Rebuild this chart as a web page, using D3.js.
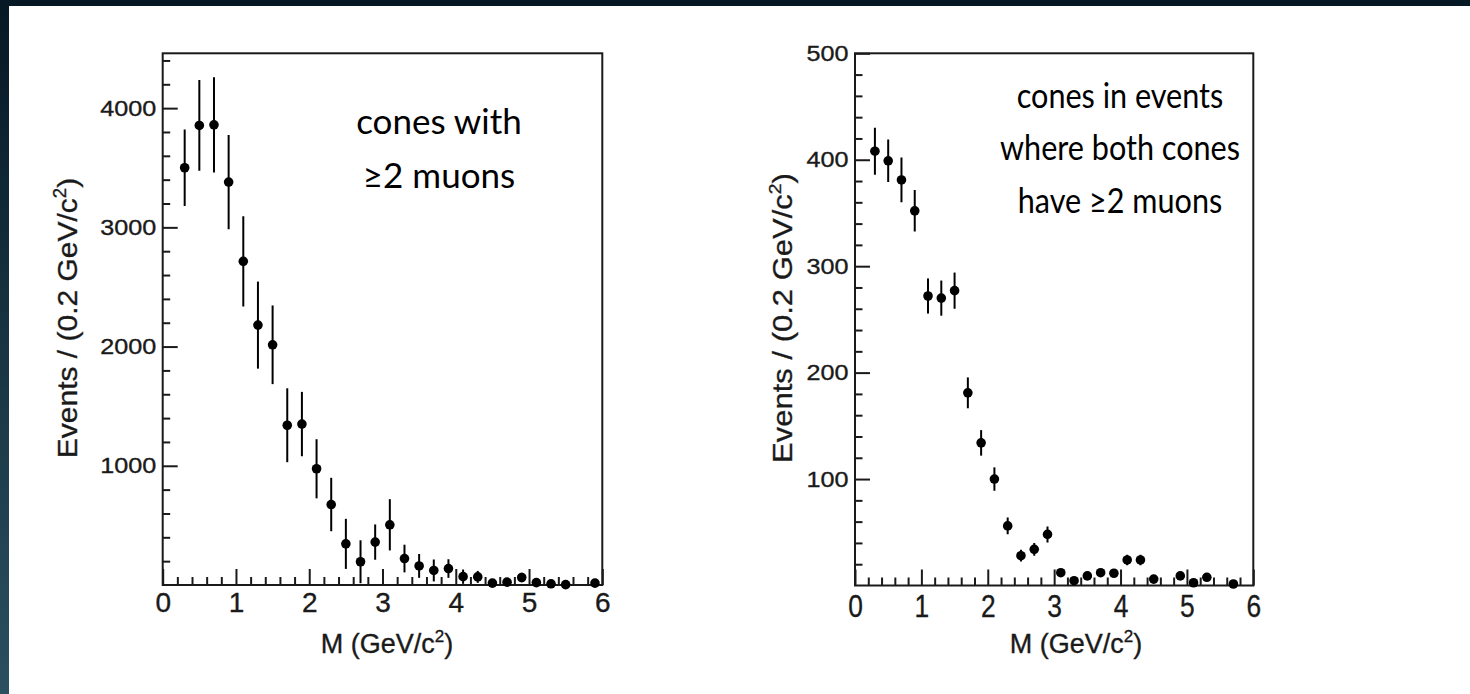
<!DOCTYPE html>
<html>
<head>
<meta charset="utf-8">
<script src="https://cdn.jsdelivr.net/npm/d3@7"></script>
<style>
  html, body { margin: 0; padding: 0; overflow: hidden; background: #fff; }
  svg { display: block; }
</style>
</head>
<body>
<svg id="chart" width="1470" height="694"></svg>
<script>
// Invariant mass spectra of muon pairs inside cones, 0.2 GeV/c^2 bins.

// Panel A: cones with at least two muons
const coneMass   = [0.3, 0.5, 0.7, 0.9, 1.1, 1.3, 1.5, 1.7, 1.9, 2.1, 2.3, 2.5, 2.7, 2.9,
                    3.1, 3.3, 3.5, 3.7, 3.9, 4.1, 4.3, 4.5, 4.7, 4.9, 5.1, 5.3, 5.5, 5.9];
const coneEvents = [3500, 3855, 3860, 3380, 2715, 2180, 2015, 1340, 1350, 975, 675, 345, 195, 360,
                    505, 222, 160, 122, 138, 70, 68, 16, 24, 63, 20, 10, 3, 16];
const coneErrors = [320, 380, 400, 395, 378, 365, 330, 310, 270, 248, 224, 210, 180, 148,
                    215, 116, 100, 92, 78, 60, 50, 20, 25, 40, 20, 15, 10, 15];

// Panel B: cones in events where both cones have at least two muons
const bothMass   = [0.3, 0.5, 0.7, 0.9, 1.1, 1.3, 1.5, 1.7, 1.9, 2.1, 2.3, 2.5, 2.7, 2.9,
                    3.1, 3.3, 3.5, 3.7, 3.9, 4.1, 4.3, 4.5, 4.9, 5.1, 5.3, 5.7];
const bothEvents = [408, 399, 381, 352, 272, 270, 277, 181, 134, 100, 56, 28, 34, 48,
                    12, 4.5, 9, 12, 11.5, 24, 24, 6, 9, 2.6, 7.7, 1.4];
const bothErrors = [22, 20, 21, 19.5, 16.5, 16.5, 17, 14.5, 12, 11, 7.8, 5.5, 6, 7.5,
                    3.5, 2, 3, 3.5, 3.5, 5, 5, 2.5, 3, 1.6, 2.8, 1.2];

// Axis ticks and labels
const massTicks   = [0, 1, 2, 3, 4, 5, 6];
const coneYTicks  = [1000, 2000, 3000, 4000];
const bothYTicks  = [100, 200, 300, 400, 500];
const xTitle      = "M (GeV/c";
const yTitle      = "Events / (0.2 GeV/c";
const coneNote    = ["cones with", "\u22652 muons"];
const bothNote    = ["cones in events", "where both cones", "have \u22652 muons"];

const svg = d3.select("#chart");
const defs = svg.append("defs");

// Dark slide border behind the white page
const bg = defs.append("linearGradient").attr("id", "slideBg")
  .attr("x1", 0).attr("y1", 0).attr("x2", 0).attr("y2", 1);
bg.append("stop").attr("offset", "0%").attr("stop-color", "#061824");
bg.append("stop").attr("offset", "100%").attr("stop-color", "#2b5060");
svg.append("rect").attr("width", 1470).attr("height", 694).attr("fill", "url(#slideBg)");
svg.append("rect").attr("x", 9).attr("y", 6).attr("width", 1461).attr("height", 688).attr("fill", "#fff");

const ROOT_FONT = "'Liberation Sans', Arial, Helvetica, sans-serif";
const NOTE_FONT = "Lato, 'Open Sans', sans-serif";
const INK = "#1a1a1a";

function heavy(sel) {
  return sel.attr("stroke", INK).attr("stroke-width", 0.35).attr("fill", INK);
}

function drawPanel(p) {
  const x = d3.scaleLinear().domain([0, 6]).range([p.left, p.right]);
  const y = d3.scaleLinear().domain([0, p.yMax]).range([p.bottom, p.top]);
  const g = svg.append("g");

  // minor + major ticks, pointing into the frame
  const xMinor = d3.range(0, 6.0001, 0.2).filter(v => Math.abs(v - Math.round(v)) > 1e-6);
  const yMinor = d3.range(p.yMinorStep, p.yMax, p.yMinorStep)
    .filter(v => Math.abs(v / p.yMajorStep - Math.round(v / p.yMajorStep)) > 1e-6);

  const styleAxis = sel => {
    sel.select(".domain").remove();
    sel.selectAll(".tick line").attr("stroke", INK).attr("stroke-width", 2);
  };

  g.append("g").attr("transform", `translate(0,${p.bottom})`)
    .call(d3.axisBottom(x).tickValues(xMinor).tickSize(-8).tickFormat(""))
    .call(styleAxis);
  const xAx = g.append("g").attr("transform", `translate(0,${p.bottom})`)
    .call(d3.axisBottom(x).tickValues(massTicks).tickSize(-16).tickPadding(0).tickFormat(d3.format("d")))
    .call(styleAxis);
  xAx.selectAll(".tick text")
    .attr("font-family", ROOT_FONT).attr("font-size", p.xLabelSize)
    .attr("y", 0).attr("dy", 0)
    .attr("transform", `translate(0,${p.xLabelBase}) scale(${p.xLabelStretch},1)`)
    .call(heavy);

  g.append("g").attr("transform", `translate(${p.left},0)`)
    .call(d3.axisLeft(y).tickValues(yMinor).tickSize(-7.5).tickFormat(""))
    .call(styleAxis);
  const yAx = g.append("g").attr("transform", `translate(${p.left},0)`)
    .call(d3.axisLeft(y).tickValues(p.yTicks).tickSize(-15).tickPadding(7).tickFormat(d3.format("d")))
    .call(styleAxis);
  yAx.selectAll(".tick text").attr("font-family", ROOT_FONT).attr("font-size", 22.5)
    .attr("transform", "scale(1.12,1)").attr("x", -6.5 / 1.12)
    .call(heavy);

  // frame
  g.append("rect").attr("x", p.left).attr("y", p.top)
    .attr("width", p.right - p.left).attr("height", p.bottom - p.top)
    .attr("fill", "none").attr("stroke", INK).attr("stroke-width", 2);

  // data points with error bars
  const clipId = "clip-" + p.id;
  defs.append("clipPath").attr("id", clipId).append("rect")
    .attr("x", p.left).attr("y", p.top)
    .attr("width", p.right - p.left).attr("height", p.bottom - p.top);

  const pts = p.xs.map((m, i) => ({ m, v: p.ys[i], e: p.es[i] }));
  const dg = g.append("g").attr("clip-path", `url(#${clipId})`);
  dg.selectAll("line.err").data(pts).join("line").attr("class", "err")
    .attr("x1", d => x(d.m)).attr("x2", d => x(d.m))
    .attr("y1", d => y(d.v + d.e)).attr("y2", d => y(Math.max(0, d.v - d.e)))
    .attr("stroke", "#000").attr("stroke-width", 2);
  g.selectAll("circle.pt").data(pts).join("circle").attr("class", "pt")
    .attr("cx", d => x(d.m)).attr("cy", d => y(d.v)).attr("r", 4.8).attr("fill", "#000");

  // axis titles
  const xt = g.append("text")
    .attr("transform", `translate(${p.xTitleX},653)`)
    .attr("text-anchor", "middle").attr("font-family", ROOT_FONT)
    .attr("font-size", 27).call(heavy);
  xt.append("tspan").text(xTitle);
  xt.append("tspan").attr("font-size", 17).attr("dy", -11).text("2");
  xt.append("tspan").attr("dy", 11).text(")");

  const yt = g.append("text")
    .attr("transform", `translate(${p.yTitleX},${p.yTitleY}) rotate(-90) scale(1,${p.yTitleSquash})`)
    .attr("text-anchor", "middle").attr("font-family", ROOT_FONT)
    .attr("font-size", p.yTitleSize).call(heavy);
  yt.append("tspan").text(yTitle);
  yt.append("tspan").attr("font-size", p.yTitleSize * 0.62).attr("dy", -12).text("2");
  yt.append("tspan").attr("dy", 12).text(")");

  // annotation
  const nt = g.append("text").attr("text-anchor", "middle")
    .attr("transform", `translate(${p.noteX},0) scale(${p.noteStretch},1)`)
    .attr("font-family", NOTE_FONT).attr("font-size", p.noteSize).attr("fill", "#000");
  p.note.forEach((line, i) => {
    nt.append("tspan").attr("x", 0).attr("y", p.noteY + i * p.noteGap).text(line);
  });
}

drawPanel({
  id: "cone", left: 162.7, right: 602.3, top: 53.3, bottom: 585,
  yMax: 4460, yMajorStep: 1000, yMinorStep: 200, yTicks: coneYTicks,
  xs: coneMass, ys: coneEvents, es: coneErrors,
  xLabelSize: 28, xLabelStretch: 1, xLabelBase: 27,
  xTitleX: 387, yTitleX: 77, yTitleY: 318, yTitleSize: 30, yTitleSquash: 0.95,
  note: coneNote, noteX: 439, noteY: 134, noteGap: 54, noteSize: 35, noteStretch: 1
});

drawPanel({
  id: "both", left: 855, right: 1253.3, top: 53.3, bottom: 585.5,
  yMax: 500, yMajorStep: 100, yMinorStep: 20, yTicks: bothYTicks,
  xs: bothMass, ys: bothEvents, es: bothErrors,
  xLabelSize: 31, xLabelStretch: 0.85, xLabelBase: 31,
  xTitleX: 1076, yTitleX: 792, yTitleY: 318, yTitleSize: 31, yTitleSquash: 0.9,
  note: bothNote, noteX: 1120, noteY: 108, noteGap: 52.5, noteSize: 34, noteStretch: 0.9
});
</script>
</body>
</html>
